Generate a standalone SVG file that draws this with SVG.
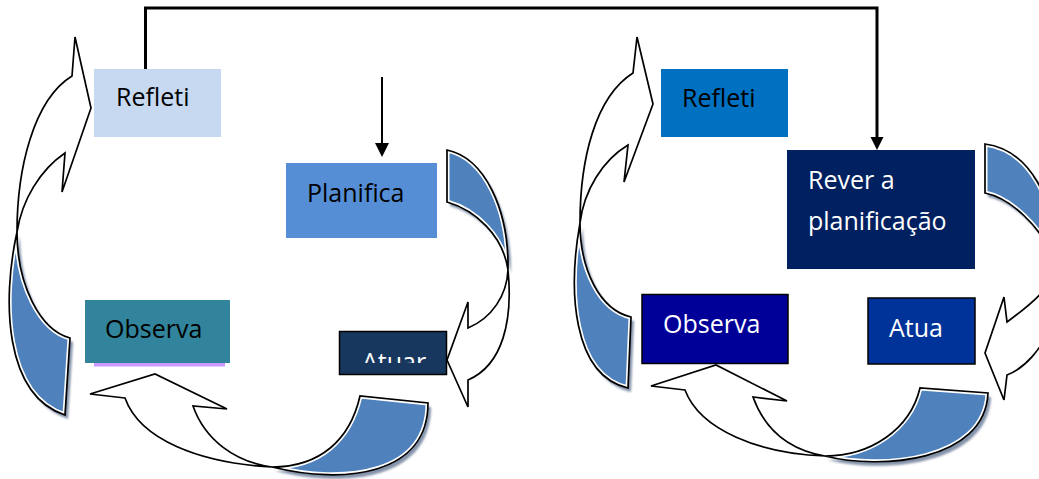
<svg xmlns="http://www.w3.org/2000/svg" xmlns:xlink="http://www.w3.org/1999/xlink" width="1039" height="479" viewBox="0 0 1039 479">
<defs>
<style>
.blk{fill:none;stroke:#000;stroke-width:1.7;stroke-linejoin:miter}
.wht{fill:#fff;stroke:#000;stroke-width:1.7;stroke-linejoin:miter}
.blu{fill:#4F81BD;stroke:#fff;stroke-width:5}
.shd{fill:#8493AA;filter:url(#blur)}
.lbl{font-family:"Open Sans","Liberation Sans",sans-serif;font-size:25px}
.dk{fill:#000}
.lt{fill:#fff}
.conn{fill:none;stroke:#000}
</style>
<filter id="blur" x="-20%" y="-20%" width="140%" height="140%"><feGaussianBlur stdDeviation="1.3"/></filter>
<marker id="ahBig" markerUnits="userSpaceOnUse" markerWidth="14" markerHeight="14" refX="0" refY="6.5" orient="auto"><path d="M0,0 L13,6.5 L0,13 Z" fill="#000"/></marker>
<marker id="ahSm" markerUnits="userSpaceOnUse" markerWidth="15" markerHeight="15" refX="0" refY="7" orient="auto"><path d="M0,0 L14,7 L0,14 Z" fill="#000"/></marker>
<path id="bA" d="M17,232 C 2,300 4,395 65,415 L 70,338 C 40,330 17,285 17,232 Z"/>
<path id="bB" d="M447,150 C 485,158 509,210 508,270 C 503,235 475,210 447,202 Z"/>
<path id="bC" d="M272,467 C 345,485 428,475 428,403 L 360,396 C 350,440 320,467 272,467 Z"/>
<path id="bD" d="M580,223 C 568,290 572,375 628,388 L 631,317 C 600,310 580,270 580,223 Z"/>
<path id="bE" d="M985,144 C 1030,150 1056,200 1056,262 C 1040,225 1010,198 985,193 Z"/>
<path id="bF" d="M825,456 C 880,470 985,462 988,393 L 920,388 C 910,430 870,456 825,456 Z"/>
<clipPath id="cA"><use xlink:href="#bA"/></clipPath>
<clipPath id="cB"><use xlink:href="#bB"/></clipPath>
<clipPath id="cC"><use xlink:href="#bC"/></clipPath>
<clipPath id="cD"><use xlink:href="#bD"/></clipPath>
<clipPath id="cE"><use xlink:href="#bE"/></clipPath>
<clipPath id="cF"><use xlink:href="#bF"/></clipPath>
<clipPath id="clipAtuar"><rect x="339" y="331" width="108" height="32"/></clipPath>
</defs>

<rect width="1039" height="479" fill="#fff"/>

<!-- curved cycle arrows -->
<g id="cycleA">
<use xlink:href="#bA" class="shd" transform="translate(3,4)"/>
<path class="wht" d="M72,76 L75,37 L91,108 L62,192 L65,153 C 40,170 22,200 17,232 C 17,170 33,100 72,76 Z"/>
<g clip-path="url(#cA)"><use xlink:href="#bA" class="blu"/></g>
<use xlink:href="#bA" class="blk"/>
</g>
<g id="cycleB">
<use xlink:href="#bB" class="shd" transform="translate(3,4)"/>
<path class="wht" d="M468,328 L468,302 L447,360 L468,407 L468,380 C 503,365 513,320 508,270 C 507,295 492,318 468,328 Z"/>
<g clip-path="url(#cB)"><use xlink:href="#bB" class="blu"/></g>
<use xlink:href="#bB" class="blk"/>
</g>
<g id="cycleC">
<use xlink:href="#bC" class="shd" transform="translate(3,4)"/>
<path class="wht" d="M125,398 L90,394 L155,374 L227,409 L193,406 C 205,440 235,462 272,467 C 200,463 140,440 125,398 Z"/>
<g clip-path="url(#cC)"><use xlink:href="#bC" class="blu"/></g>
<use xlink:href="#bC" class="blk"/>
</g>
<g id="cycleD">
<use xlink:href="#bD" class="shd" transform="translate(3,4)"/>
<path class="wht" d="M633,73 L637,37 L653,104 L624,182 L628,145 C 603,160 584,190 580,223 C 580,160 595,97 633,73 Z"/>
<g clip-path="url(#cD)"><use xlink:href="#bD" class="blu"/></g>
<use xlink:href="#bD" class="blk"/>
</g>
<g id="cycleE">
<use xlink:href="#bE" class="shd" transform="translate(3,4)"/>
<path class="wht" d="M1007,322 L1004,297 L985,353 L1004,400 L1007,375 C 1045,360 1068,300 1056,262 C 1056,285 1030,305 1007,322 Z"/>
<g clip-path="url(#cE)"><use xlink:href="#bE" class="blu"/></g>
<use xlink:href="#bE" class="blk"/>
</g>
<g id="cycleF">
<use xlink:href="#bF" class="shd" transform="translate(3,4)"/>
<path class="wht" d="M685,390 L651,386 L716,365 L787,401 L753,397 C 765,430 790,450 825,456 C 760,454 700,430 685,390 Z"/>
<g clip-path="url(#cF)"><use xlink:href="#bF" class="blu"/></g>
<use xlink:href="#bF" class="blk"/>
</g>

<!-- connectors -->
<g id="connectors">
<path class="conn" d="M145.5,69 V8 H877 V137" stroke-width="3" marker-end="url(#ahBig)"/>
<path class="conn" d="M382,77 V143" stroke-width="2" marker-end="url(#ahSm)"/>
</g>

<!-- nodes -->
<g id="refleti1">
<rect x="94" y="69" width="127" height="68" fill="#C6D9F1"/>
<text class="lbl dk" x="116" y="106">Refleti</text>
</g>
<g id="planifica">
<rect x="286" y="163" width="151" height="75" fill="#558ED5"/>
<text class="lbl dk" x="307" y="202">Planifica</text>
</g>
<g id="observa1">
<rect x="94" y="362" width="131" height="4.5" fill="#CC99FF"/>
<rect x="85" y="300" width="145" height="63" fill="#31849B"/>
<text class="lbl dk" x="105" y="338">Observa</text>
</g>
<g id="atuar">
<rect x="339.5" y="331.5" width="107" height="43" fill="#17375E" stroke="#000" stroke-width="1.5"/>
<text class="lbl lt" x="362" y="371" clip-path="url(#clipAtuar)">Atuar</text>
</g>
<g id="refleti2">
<rect x="661" y="69" width="127" height="68" fill="#0070C0"/>
<text class="lbl dk" x="682" y="107">Refleti</text>
</g>
<g id="rever">
<rect x="787" y="150" width="188" height="119" fill="#002060"/>
<text class="lbl lt" x="808" y="189">Rever a</text>
<text class="lbl lt" x="808" y="230">planificação</text>
</g>
<g id="observa2">
<rect x="642" y="294.5" width="146" height="69" fill="#000099" stroke="#000" stroke-width="1.5"/>
<text class="lbl lt" x="663" y="333">Observa</text>
</g>
<g id="atua">
<rect x="868" y="298" width="107" height="66" fill="#003399" stroke="#000" stroke-width="1.5"/>
<text class="lbl lt" x="889" y="337">Atua</text>
</g>
</svg>
